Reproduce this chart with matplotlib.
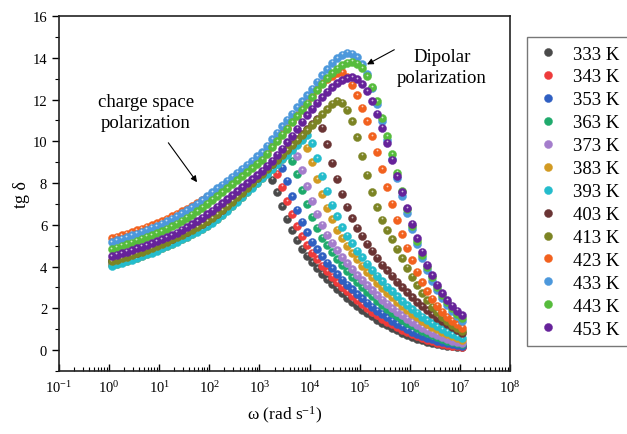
import matplotlib
matplotlib.use("Agg")
import matplotlib.pyplot as plt
from matplotlib.ticker import FixedLocator, LogLocator, LogFormatterMathtext, MultipleLocator, NullFormatter
from matplotlib.transforms import offset_copy

plt.rcParams['font.family'] = ['Liberation Serif', 'DejaVu Serif']
plt.rcParams['mathtext.fontset'] = 'custom'
plt.rcParams['mathtext.rm'] = 'Liberation Serif'
plt.rcParams['mathtext.it'] = 'Liberation Serif:italic'

# angular frequency (rad/s)
omega = [1.122, 1.413, 1.778, 2.239, 2.818, 3.548, 4.467, 5.623, 7.079, 8.913,
         11.22, 14.13, 17.78, 22.39, 28.18, 35.48, 44.67, 56.23, 70.79, 89.13,
         112.2, 141.3, 177.8, 223.9, 281.8, 354.8, 446.7, 562.3, 707.9, 891.3,
         1122, 1413, 1778, 2239, 2818, 3548, 4467, 5623, 7079, 8913,
         1.122e4, 1.413e4, 1.778e4, 2.239e4, 2.818e4, 3.548e4, 4.467e4, 5.623e4, 7.079e4, 8.913e4,
         1.122e5, 1.413e5, 1.778e5, 2.239e5, 2.818e5, 3.548e5, 4.467e5, 5.623e5, 7.079e5, 8.913e5,
         1.122e6, 1.413e6, 1.778e6, 2.239e6, 2.818e6, 3.548e6, 4.467e6, 5.623e6, 7.079e6, 8.913e6,
         1.122e7]

tg_333 = [4.14, 4.21, 4.28, 4.35, 4.43, 4.51, 4.59, 4.68, 4.77, 4.87,
          4.97, 5.07, 5.18, 5.29, 5.40, 5.52, 5.64, 5.77, 5.90, 6.04,
          6.20, 6.38, 6.57, 6.77, 6.98, 7.20, 7.42, 7.65, 7.88, 8.10,
          8.32, 8.50, 8.16, 7.57, 6.89, 6.29, 5.74, 5.27, 4.85, 4.51,
          4.21, 3.91, 3.66, 3.40, 3.15, 2.93, 2.72, 2.51, 2.31, 2.13,
          1.94, 1.77, 1.62, 1.46, 1.32, 1.19, 1.06, 0.94, 0.83, 0.73,
          0.64, 0.55, 0.48, 0.41, 0.35, 0.30, 0.26, 0.21, 0.18, 0.15,
          0.13]
tg_343 = [4.20, 4.27, 4.34, 4.41, 4.49, 4.57, 4.65, 4.74, 4.83, 4.93,
          5.03, 5.13, 5.24, 5.35, 5.46, 5.58, 5.70, 5.83, 5.96, 6.10,
          6.26, 6.44, 6.63, 6.83, 7.04, 7.26, 7.48, 7.71, 7.94, 8.16,
          8.38, 8.60, 8.80, 8.45, 7.83, 7.13, 6.51, 5.94, 5.46, 5.02,
          4.66, 4.36, 4.05, 3.78, 3.52, 3.26, 3.04, 2.82, 2.60, 2.39,
          2.20, 2.01, 1.83, 1.67, 1.51, 1.36, 1.23, 1.10, 0.98, 0.86,
          0.76, 0.66, 0.57, 0.49, 0.42, 0.36, 0.31, 0.26, 0.22, 0.18,
          0.16]
tg_353 = [4.24, 4.31, 4.38, 4.45, 4.53, 4.61, 4.69, 4.78, 4.87, 4.97,
          5.07, 5.17, 5.28, 5.39, 5.50, 5.62, 5.74, 5.87, 6.00, 6.14,
          6.30, 6.48, 6.67, 6.87, 7.08, 7.30, 7.52, 7.75, 7.98, 8.20,
          8.42, 8.64, 8.87, 9.10, 8.74, 8.10, 7.37, 6.73, 6.14, 5.64,
          5.19, 4.82, 4.50, 4.19, 3.91, 3.64, 3.37, 3.14, 2.91, 2.68,
          2.48, 2.28, 2.07, 1.89, 1.73, 1.57, 1.41, 1.27, 1.14, 1.01,
          0.89, 0.78, 0.68, 0.59, 0.51, 0.44, 0.37, 0.32, 0.27, 0.23,
          0.19]
tg_363 = [4.22, 4.29, 4.36, 4.43, 4.51, 4.59, 4.67, 4.76, 4.85, 4.95,
          5.05, 5.15, 5.26, 5.37, 5.48, 5.60, 5.72, 5.85, 5.98, 6.12,
          6.28, 6.46, 6.65, 6.85, 7.06, 7.28, 7.50, 7.73, 7.96, 8.18,
          8.40, 8.62, 8.85, 9.08, 9.31, 9.45, 9.07, 8.41, 7.65, 6.99,
          6.38, 5.86, 5.39, 5.01, 4.68, 4.35, 4.06, 3.78, 3.50, 3.26,
          3.02, 2.79, 2.57, 2.36, 2.15, 1.97, 1.80, 1.63, 1.46, 1.32,
          1.18, 1.05, 0.93, 0.81, 0.71, 0.61, 0.53, 0.45, 0.39, 0.33,
          0.28]
tg_373 = [4.12, 4.19, 4.26, 4.33, 4.41, 4.49, 4.57, 4.66, 4.75, 4.85,
          4.95, 5.05, 5.16, 5.27, 5.38, 5.50, 5.62, 5.75, 5.88, 6.02,
          6.18, 6.36, 6.55, 6.75, 6.96, 7.18, 7.40, 7.63, 7.86, 8.08,
          8.30, 8.52, 8.75, 8.98, 9.21, 9.44, 9.68, 9.29, 8.62, 7.84,
          7.16, 6.53, 6.00, 5.52, 5.13, 4.79, 4.45, 4.16, 3.87, 3.58,
          3.34, 3.10, 2.86, 2.63, 2.42, 2.21, 2.01, 1.84, 1.66, 1.50,
          1.36, 1.21, 1.07, 0.95, 0.83, 0.73, 0.63, 0.54, 0.46, 0.40,
          0.34]
tg_383 = [4.06, 4.13, 4.20, 4.27, 4.35, 4.43, 4.51, 4.60, 4.69, 4.79,
          4.89, 4.99, 5.10, 5.21, 5.32, 5.44, 5.56, 5.69, 5.82, 5.96,
          6.12, 6.30, 6.49, 6.69, 6.90, 7.12, 7.34, 7.57, 7.80, 8.02,
          8.24, 8.46, 8.69, 8.92, 9.15, 9.38, 9.62, 9.86, 10.10, 9.70,
          8.99, 8.18, 7.47, 6.82, 6.26, 5.76, 5.35, 5.00, 4.65, 4.34,
          4.04, 3.74, 3.48, 3.23, 2.98, 2.75, 2.53, 2.30, 2.10, 1.92,
          1.74, 1.57, 1.41, 1.26, 1.12, 0.99, 0.87, 0.76, 0.66, 0.57,
          0.48]
tg_393 = [4.04, 4.11, 4.18, 4.25, 4.33, 4.41, 4.49, 4.58, 4.67, 4.77,
          4.87, 4.97, 5.08, 5.19, 5.30, 5.42, 5.54, 5.67, 5.80, 5.94,
          6.10, 6.28, 6.47, 6.67, 6.88, 7.10, 7.32, 7.55, 7.78, 8.00,
          8.22, 8.44, 8.67, 8.90, 9.13, 9.36, 9.60, 9.84, 10.08, 10.32,
          9.91, 9.18, 8.36, 7.64, 6.97, 6.40, 5.88, 5.47, 5.11, 4.75,
          4.44, 4.13, 3.82, 3.56, 3.30, 3.04, 2.81, 2.58, 2.35, 2.15,
          1.96, 1.78, 1.60, 1.44, 1.29, 1.15, 1.01, 0.89, 0.77, 0.67,
          0.58]
tg_403 = [4.30, 4.37, 4.44, 4.51, 4.59, 4.67, 4.75, 4.84, 4.93, 5.03,
          5.13, 5.23, 5.34, 5.45, 5.56, 5.68, 5.80, 5.93, 6.06, 6.20,
          6.36, 6.54, 6.73, 6.93, 7.14, 7.36, 7.58, 7.81, 8.04, 8.26,
          8.48, 8.70, 8.93, 9.16, 9.39, 9.62, 9.86, 10.10, 10.34, 10.58,
          10.83, 11.08, 10.64, 9.86, 8.97, 8.20, 7.48, 6.87, 6.32, 5.87,
          5.48, 5.10, 4.76, 4.43, 4.10, 3.82, 3.55, 3.27, 3.01, 2.77,
          2.53, 2.30, 2.11, 1.91, 1.72, 1.55, 1.39, 1.23, 1.09, 0.95,
          0.83]
tg_413 = [4.26, 4.33, 4.40, 4.47, 4.55, 4.63, 4.71, 4.80, 4.89, 4.99,
          5.09, 5.19, 5.30, 5.41, 5.52, 5.64, 5.76, 5.89, 6.02, 6.16,
          6.32, 6.50, 6.69, 6.89, 7.10, 7.32, 7.54, 7.77, 8.00, 8.22,
          8.44, 8.66, 8.89, 9.12, 9.35, 9.58, 9.82, 10.06, 10.30, 10.54,
          10.79, 11.04, 11.29, 11.54, 11.80, 11.95, 11.85, 11.50, 10.95, 10.20,
          9.30, 8.40, 7.55, 6.85, 6.25, 5.75, 5.30, 4.85, 4.40, 3.95,
          3.52, 3.10, 2.72, 2.38, 2.08, 1.82, 1.60, 1.40, 1.22, 1.06,
          0.92]
tg_423 = [5.36, 5.43, 5.50, 5.57, 5.65, 5.73, 5.81, 5.90, 5.99, 6.08,
          6.18, 6.29, 6.40, 6.52, 6.64, 6.77, 6.90, 7.04, 7.18, 7.33,
          7.50, 7.67, 7.84, 8.01, 8.18, 8.35, 8.52, 8.70, 8.88, 9.06,
          9.25, 9.53, 9.81, 10.10, 10.38, 10.66, 10.95, 11.27, 11.59, 11.91,
          12.23, 12.52, 12.78, 13.00, 13.15, 13.26, 13.30, 13.10, 12.70, 12.20,
          11.60, 10.95, 10.25, 9.50, 8.65, 7.80, 7.00, 6.25, 5.55, 4.90,
          4.30, 3.75, 3.25, 2.82, 2.45, 2.12, 1.84, 1.60, 1.40, 1.23,
          1.08]
tg_433 = [5.17, 5.25, 5.33, 5.41, 5.49, 5.58, 5.67, 5.76, 5.85, 5.94,
          6.04, 6.16, 6.29, 6.42, 6.56, 6.70, 6.85, 7.01, 7.18, 7.36,
          7.55, 7.74, 7.93, 8.12, 8.31, 8.50, 8.69, 8.88, 9.08, 9.28,
          9.48, 9.78, 10.09, 10.40, 10.71, 11.02, 11.32, 11.62, 11.92, 12.21,
          12.52, 12.85, 13.17, 13.45, 13.75, 13.98, 14.15, 14.24, 14.20, 14.02,
          13.70, 13.20, 12.55, 11.80, 10.95, 10.05, 9.15, 8.25, 7.40, 6.58,
          5.80, 5.08, 4.42, 3.84, 3.33, 2.88, 2.49, 2.15, 1.86, 1.61,
          1.40]
tg_443 = [4.83, 4.91, 4.99, 5.07, 5.15, 5.24, 5.33, 5.42, 5.51, 5.60,
          5.70, 5.81, 5.93, 6.06, 6.20, 6.34, 6.49, 6.65, 6.82, 7.00,
          7.19, 7.38, 7.57, 7.76, 7.95, 8.14, 8.33, 8.52, 8.72, 8.92,
          9.12, 9.41, 9.71, 10.01, 10.31, 10.61, 10.91, 11.21, 11.50, 11.79,
          12.10, 12.45, 12.75, 13.02, 13.27, 13.48, 13.65, 13.77, 13.80, 13.72,
          13.50, 13.12, 12.58, 11.92, 11.10, 10.25, 9.38, 8.50, 7.60, 6.75,
          5.95, 5.22, 4.56, 3.98, 3.48, 3.03, 2.64, 2.30, 2.00, 1.74,
          1.52]
tg_453 = [4.50, 4.57, 4.64, 4.71, 4.79, 4.87, 4.95, 5.03, 5.12, 5.21,
          5.30, 5.40, 5.51, 5.63, 5.76, 5.89, 6.03, 6.18, 6.34, 6.51,
          6.68, 6.86, 7.04, 7.23, 7.42, 7.61, 7.80, 7.99, 8.18, 8.38,
          8.58, 8.82, 9.08, 9.36, 9.65, 9.95, 10.27, 10.60, 10.93, 11.25,
          11.56, 11.85, 12.12, 12.37, 12.60, 12.78, 12.92, 13.02, 13.06, 12.98,
          12.74, 12.40, 11.92, 11.32, 10.66, 9.92, 9.12, 8.32, 7.55, 6.80,
          6.05, 5.35, 4.70, 4.10, 3.58, 3.12, 2.73, 2.40, 2.12, 1.88,
          1.68]

labels = ['333 K', '343 K', '353 K', '363 K', '373 K', '383 K', '393 K',
          '403 K', '413 K', '423 K', '433 K', '443 K', '453 K']
series = [tg_333, tg_343, tg_353, tg_363, tg_373, tg_383, tg_393,
          tg_403, tg_413, tg_423, tg_433, tg_443, tg_453]
colors = ['#4a4a4a', '#ee3b3b', '#2f5fc2', '#1faa6c', '#a47dcc', '#d29a22', '#24bccc',
          '#6a3434', '#7c8424', '#f2611e', '#4c98dc', '#56bc3c', '#66229a']
x_ticks = [1e-1, 1e0, 1e1, 1e2, 1e3, 1e4, 1e5, 1e6, 1e7, 1e8]

fig = plt.figure(figsize=(6.27, 4.35), dpi=100)
ax = fig.add_axes([59/627, 1-372/435, (510-59)/627, (372-17)/435])

hl = offset_copy(ax.transData, fig=fig, x=-0.3, y=1.5, units='dots')
for y, c, lab in zip(series, colors, labels):
    ax.plot(omega, y, linestyle='none', marker='o', markersize=5.8,
            markerfacecolor=c, markeredgecolor=c, markeredgewidth=0.3, label=lab)
    ax.plot(omega, y, linestyle='none', marker='o', markersize=1.3,
            markerfacecolor='white', markeredgewidth=0, alpha=0.7,
            transform=hl)

ax.set_xscale('log')
ax.set_xlim(0.1, 1e8)
ax.set_ylim(-1, 16)
ax.xaxis.set_major_locator(FixedLocator(x_ticks))
ax.xaxis.set_minor_locator(LogLocator(base=10, subs=range(2, 10), numticks=20))
ax.xaxis.set_major_formatter(LogFormatterMathtext())
ax.xaxis.set_minor_formatter(NullFormatter())
ax.yaxis.set_major_locator(MultipleLocator(2))
ax.yaxis.set_minor_locator(MultipleLocator(1))
ax.tick_params(axis='x', which='major', direction='in', length=5, width=1, labelsize=10.5, pad=6)
ax.tick_params(axis='x', which='minor', direction='in', length=3, width=0.8)
ax.tick_params(axis='y', which='major', direction='out', length=5, width=1, labelsize=10.5)
ax.tick_params(axis='y', which='minor', direction='out', length=3, width=0.8)
for s in ax.spines.values():
    s.set_linewidth(1.2)
    s.set_color('#222222')

ax.set_xlabel(r'ω (rad s$^{-1}$)', fontsize=12.5, labelpad=6)
ax.set_ylabel('tg δ', fontsize=13, labelpad=2)

ax.annotate('charge space\npolarization', xy=(56.8, 8.04), xytext=(5.45, 11.4),
            ha='center', va='center', fontsize=13.5, linespacing=1.3,
            arrowprops=dict(arrowstyle='-|>', color='black', lw=0.8,
                            mutation_scale=9, shrinkA=8, shrinkB=0))
ax.annotate('Dipolar\npolarization', xy=(1.4e5, 13.68), xytext=(4.4e6, 13.55),
            ha='center', va='center', fontsize=13.5, linespacing=1.3,
            arrowprops=dict(arrowstyle='-|>', color='black', lw=0.8,
                            mutation_scale=9, shrinkA=0, shrinkB=0,
                            relpos=(0.0, 1.0)))

leg = fig.legend(loc='upper left', bbox_to_anchor=(527/627, 1-38/435),
                 borderaxespad=0.0,
                 fontsize=13.5, frameon=True, fancybox=False, edgecolor='#555555',
                 handlelength=1.3, handletextpad=0.7, labelspacing=0.31,
                 borderpad=0.45, markerscale=1.0)
leg.get_frame().set_linewidth(1.0)

fig.savefig('out.png', dpi=100)
